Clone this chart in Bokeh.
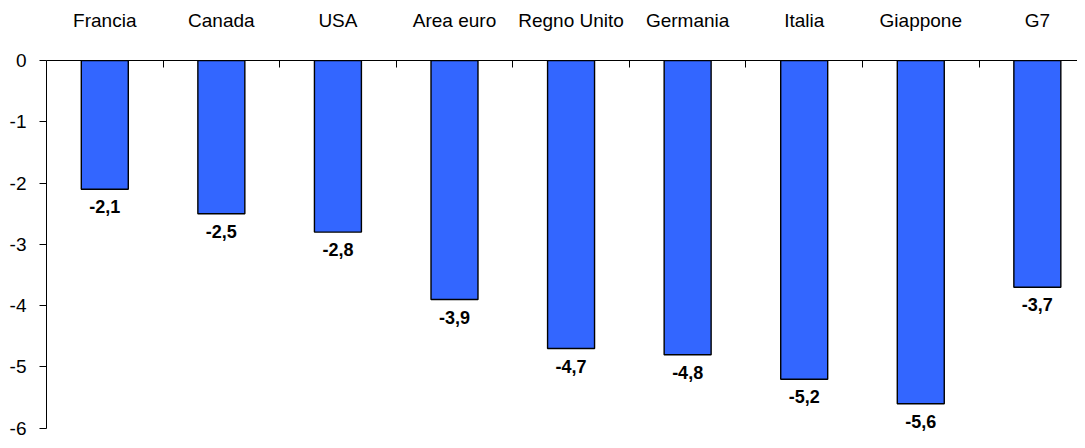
from bokeh.plotting import figure
from bokeh.models import Range1d, FixedTicker, LinearAxis, ColumnDataSource
from bokeh.embed import file_html
from bokeh.resources import INLINE
from bokeh.core.properties import value

categories = ["Francia", "Canada", "USA", "Area euro", "Regno Unito",
              "Germania", "Italia", "Giappone", "G7"]
values = [-2.1, -2.5, -2.8, -3.9, -4.7, -4.8, -5.2, -5.6, -3.7]
y_ticks = [0, -1, -2, -3, -4, -5, -6]

centers = [i + 0.5 for i in range(len(categories))]
bounds = [i for i in range(1, len(categories))]
labels = [("%.1f" % v).replace(".", ",") for v in values]

src = ColumnDataSource(dict(x=centers, top=[0] * len(values), bottom=values, lab=labels))

FONT = "Liberation Sans"
W, H = 1077, 440
LEFT, TOP = 46, 60
CAT_PX = 116.57

p = figure(width=W, height=H, output_backend="svg", toolbar_location=None,
           x_range=Range1d(0, (W - LEFT) / CAT_PX), y_range=Range1d(-6.2, 0),
           x_axis_location=None, min_border_left=LEFT, min_border_top=TOP,
           min_border_right=0, min_border_bottom=0)
p.outline_line_color = None
p.xgrid.visible = False
p.ygrid.visible = False
p.background_fill_color = "white"
p.border_fill_color = "white"

p.vbar(x="x", top="top", bottom="bottom", width=0.403, source=src,
       fill_color="#3366FF", line_color="black", line_width=1.4)

p.text(x="x", y="bottom", text="lab", source=src, text_align="center",
       text_baseline="top", y_offset=11, text_font=value(FONT),
       text_font_style="bold", text_font_size="18px", text_color="black")

# y axis
ya = p.yaxis[0]
ya.ticker = FixedTicker(ticks=y_ticks)
ya.bounds = (min(y_ticks), max(y_ticks))
ya.major_label_overrides = {t: str(t) for t in y_ticks}
ya.major_tick_in = 0
ya.major_tick_out = 7
ya.minor_tick_line_color = None
ya.axis_line_color = "black"
ya.major_tick_line_color = "black"
ya.major_label_text_font = FONT
ya.major_label_text_font_size = "19px"
ya.major_label_text_color = "black"
ya.major_label_standoff = 13

# top axis: zero line with category labels
xa = LinearAxis(ticker=FixedTicker(ticks=centers, minor_ticks=bounds))
xa.major_label_overrides = {c: n for c, n in zip(centers, categories)}
xa.major_tick_in = 0
xa.major_tick_out = 0
xa.minor_tick_in = 7
xa.minor_tick_out = 0
xa.minor_tick_line_color = "black"
xa.axis_line_color = "black"
xa.major_label_text_font = FONT
xa.major_label_text_font_size = "19px"
xa.major_label_text_color = "black"
xa.major_label_standoff = 30
p.add_layout(xa, "above")

open("out.html", "w").write(file_html(p, INLINE))
